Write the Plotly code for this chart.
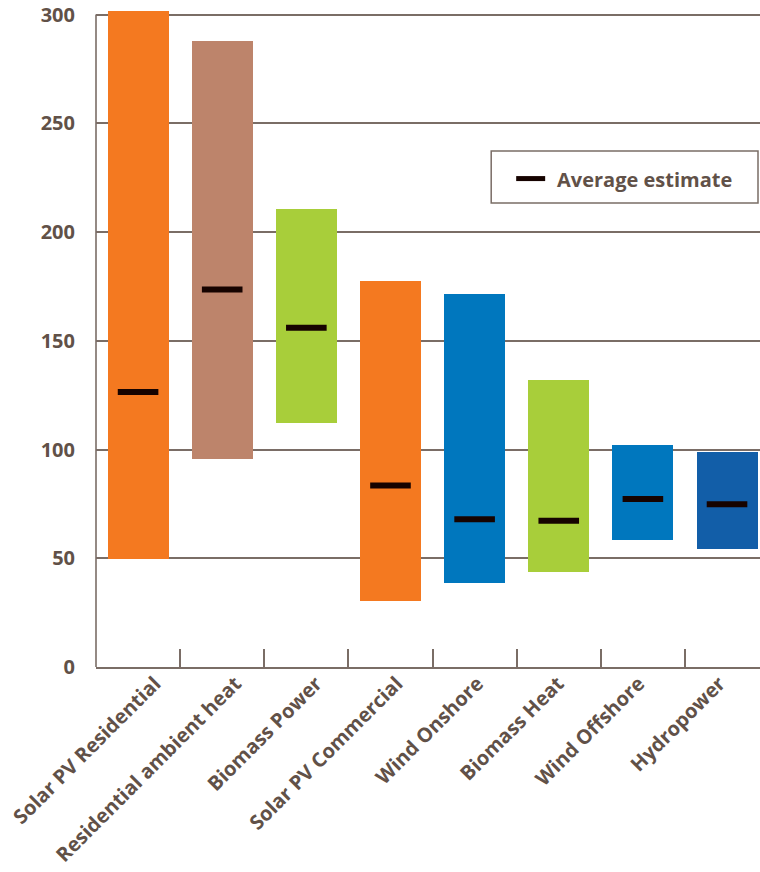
import plotly.graph_objects as go

# Technology categories and cost ranges
categories = [
    "Solar PV Residential",
    "Residential ambient heat",
    "Biomass Power",
    "Solar PV Commercial",
    "Wind Onshore",
    "Biomass Heat",
    "Wind Offshore",
    "Hydropower",
]
range_low = [49.5, 95.7, 112.1, 30.2, 38.5, 43.6, 58.4, 54.3]
range_high = [301.6, 287.8, 210.5, 177.4, 171.4, 131.9, 102.0, 98.8]
average_estimate = [126.4, 173.6, 156.0, 83.4, 67.9, 67.2, 77.3, 74.8]
bar_colors = ["#F47920", "#BD846B", "#A8CE3A", "#F47920", "#0077BE", "#A8CE3A", "#0077BE", "#125EA8"]
y_ticks = [0, 50, 100, 150, 200, 250, 300]

TEXT = "#615148"
LINE = "#7A6D66"
FONT = "Open Sans"
FSIZE = 20

W, H = 760, 872
M_L, M_R, M_T, M_B = 95.5, 0, 8, 205.3
plot_w = W - M_L - M_R
plot_h = H - M_T - M_B
slot = 84.2  # pixel width of one category slot

fig = go.Figure()

fig.add_trace(go.Bar(
    x=categories,
    base=range_low,
    y=[h - l for h, l in zip(range_high, range_low)],
    width=0.725,
    marker=dict(color=bar_colors, line=dict(width=0)),
    showlegend=False,
    hoverinfo="skip",
))

fig.add_trace(go.Scatter(
    x=categories,
    y=average_estimate,
    mode="markers",
    marker=dict(symbol="line-ew", size=29, line=dict(width=6, color="#160300")),
    showlegend=False,
    hoverinfo="skip",
))

# carrier for the slanted category labels (slightly tighter spacing than the bars)
idx = list(range(len(categories)))
fig.add_trace(go.Scatter(
    x=idx, y=[0] * len(idx), xaxis="x2", mode="markers",
    marker=dict(opacity=0), showlegend=False, hoverinfo="skip",
))


def px_x(px):
    return (px - M_L) / plot_w


def px_y(py):
    return (H - M_B - py) / plot_h


shapes = [
    # left axis line, stopping at the top gridline
    dict(type="line", xref="paper", yref="y", x0=0, x1=0, y0=0, y1=300,
         line=dict(color=LINE, width=1.6)),
    # legend box
    dict(type="rect", xref="paper", yref="paper",
         x0=px_x(491), x1=px_x(758), y0=px_y(203), y1=px_y(151),
         line=dict(color=LINE, width=1.5), fillcolor="white"),
    # legend swatch
    dict(type="line", xref="paper", yref="paper",
         x0=px_x(516), x1=px_x(545), y0=px_y(178.5), y1=px_y(178.5),
         line=dict(color="#160300", width=5)),
]

annotations = [
    dict(xref="paper", yref="paper", x=px_x(555), y=px_y(179),
         text="Average estimate", showarrow=False, xanchor="left", yanchor="middle",
         font=dict(family=FONT, size=FSIZE, color=TEXT, weight="bold")),
]

fig.update_layout(
    width=W, height=H,
    margin=dict(l=M_L, r=M_R, t=M_T, b=M_B, pad=0),
    paper_bgcolor="white",
    plot_bgcolor="white",
    shapes=shapes,
    annotations=annotations,
    bargap=0,
)

fig.update_xaxes(
    range=[-0.5, -0.5 + plot_w / slot],
    showgrid=False,
    showline=True, linecolor=LINE, linewidth=1.6,
    ticks="inside", tickson="boundaries", ticklen=18, tickcolor=LINE, tickwidth=1.6,
    showticklabels=False,
    zeroline=False,
)

label_step = 80.7
label_start = 154.5
x2_lo = -(label_start - M_L) / label_step
fig.update_layout(xaxis2=dict(
    overlaying="x", anchor="y", side="bottom",
    range=[x2_lo, x2_lo + plot_w / label_step],
    tickvals=idx, ticktext=categories,
    showgrid=False, showline=False, zeroline=False, ticks="",
    tickangle=-45,
    tickfont=dict(family=FONT, size=FSIZE, color=TEXT, weight="bold"),
    ticklabelstandoff=0,
))

fig.update_yaxes(
    range=[0, 303],
    tickvals=y_ticks,
    showgrid=True, gridcolor=LINE, gridwidth=1.6,
    showline=False, zeroline=False,
    ticks="",
    ticklabelstandoff=20,
    tickfont=dict(family=FONT, size=FSIZE, color=TEXT, weight="bold"),
)

fig.write_html("out.html")
